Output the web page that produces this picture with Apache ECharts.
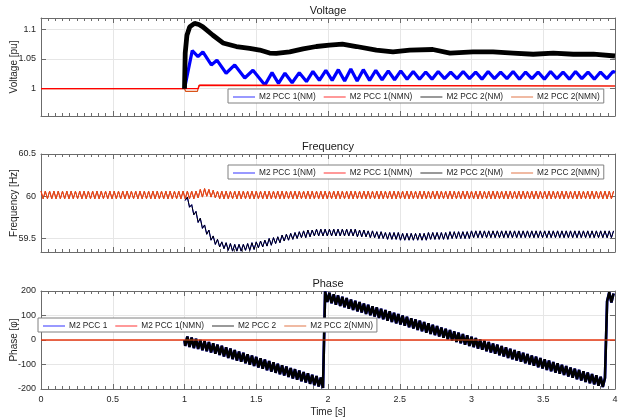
<!DOCTYPE html>
<html>
<head>
<meta charset="utf-8">
<title>M2 PCC voltage, frequency and phase</title>
<script src="https://cdn.jsdelivr.net/npm/echarts@6/dist/echarts.min.js"></script>
<style>
  html, body { margin: 0; padding: 0; background: #fff; }
  #chart { width: 620px; height: 420px; }
</style>
</head>
<body>
<div id="chart"></div>
<script>
// ---- data ----
const timeMin = 0
const timeMax = 4
const timeInterval = 0.5
const sampleStep = 0.015 // spacing of the fast samples (s)
const tailStart = 67     // index of the first fast sample after the event (t = 1.005 s)

const voltageTicks = [1, 1.05, 1.1]
const frequencyTicks = [59.5, 60, 60.5]
const phaseTicks = [-200, -100, 0, 100, 200]

const titles = ['Voltage', 'Frequency', 'Phase']
const yNames = ['Voltage [pu]', 'Frequency [Hz]', 'Phase [φ]']
const voltageNames = ['M2 PCC 1(NM)', 'M2 PCC 1(NMN)', 'M2 PCC 2(NM)', 'M2 PCC 2(NMN)']
const phaseNames = ['M2 PCC 1', 'M2 PCC 1(NMN)', 'M2 PCC 2', 'M2 PCC 2(NMN)']
const lineColors = ['#0000ff', '#ff0000', '#000000', '#d95319']

// voltage [t, pu]
const voltPcc1NM = [
  [1.0, 1.0], [1.054, 1.064], [1.094, 1.054], [1.128, 1.062], [1.187, 1.040],
  [1.226, 1.048], [1.29, 1.026], [1.35, 1.040], [1.42, 1.018], [1.477, 1.031], [1.56, 1.006],
  [1.61, 1.027], [1.655, 1.009], [1.70, 1.026], [1.75, 1.010], [1.80, 1.027], [1.85, 1.012],
  [1.895, 1.029], [1.94, 1.014], [1.985, 1.031], [2.029, 1.014], [2.072, 1.032], [2.116, 1.013],
  [2.159, 1.033], [2.203, 1.013], [2.246, 1.032], [2.290, 1.014], [2.333, 1.031], [2.377, 1.015],
  [2.420, 1.030], [2.464, 1.015], [2.507, 1.030], [2.551, 1.016], [2.594, 1.029], [2.638, 1.016],
  [2.681, 1.028], [2.725, 1.016], [2.768, 1.029], [2.812, 1.017], [2.855, 1.028], [2.899, 1.017],
  [2.942, 1.029], [2.986, 1.017], [3.029, 1.028], [3.073, 1.016], [3.116, 1.029], [3.160, 1.017],
  [3.203, 1.028], [3.247, 1.017], [3.290, 1.029], [3.334, 1.016], [3.377, 1.028], [3.421, 1.017],
  [3.464, 1.028], [3.508, 1.016], [3.551, 1.029], [3.595, 1.017], [3.638, 1.028], [3.682, 1.016],
  [3.725, 1.029], [3.769, 1.017], [3.812, 1.028], [3.856, 1.016], [3.899, 1.028], [3.943, 1.017],
  [3.986, 1.029], [4.0, 1.027]
]
const voltPcc1NMN = [[0, 1.0], [1.095, 1.0], [1.105, 1.006], [2.5, 1.005], [4.0, 1.0045]]
const voltPcc2NM = [
  [1.0, 1.0], [1.005, 1.06], [1.017, 1.09], [1.036, 1.104], [1.07, 1.110],
  [1.10, 1.108], [1.128, 1.104], [1.198, 1.090], [1.268, 1.077], [1.361, 1.071], [1.454, 1.068],
  [1.524, 1.065], [1.593, 1.060], [1.64, 1.0595], [1.733, 1.062], [1.826, 1.067], [1.919, 1.071],
  [2.01, 1.0735], [2.10, 1.075], [2.198, 1.071], [2.337, 1.065], [2.453, 1.062], [2.57, 1.065],
  [2.73, 1.066], [2.85, 1.060], [3.01, 1.062], [3.15, 1.062], [3.29, 1.060], [3.43, 1.058],
  [3.57, 1.060], [3.71, 1.058], [3.85, 1.058], [4.0, 1.055]
]
const voltPcc2NMN = [
  [0, 1.0], [1.0, 1.0], [1.008, 0.9955], [1.09, 0.9955], [1.1, 1.0055], [2.5, 1.005], [4.0, 1.0045]
]

// frequency [Hz], one value per sample step; before the event (t = 0 .. 0.99 s)
const freqBefore = [
  60.06, 59.97, 60.06, 59.97, 60.06, 59.97, 60.06, 59.97, 60.06, 59.97, 60.06, 59.97, 60.06, 59.97,
  60.06, 59.97, 60.06, 59.97, 60.06, 59.97, 60.06, 59.97, 60.06, 59.97, 60.06, 59.97, 60.06, 59.97,
  60.06, 59.97, 60.06, 59.97, 60.06, 59.97, 60.06, 59.97, 60.06, 59.97, 60.06, 59.97, 60.06, 59.97,
  60.06, 59.97, 60.06, 59.97, 60.06, 59.97, 60.06, 59.97, 60.06, 59.97, 60.06, 59.97, 60.06, 59.97,
  60.06, 59.97, 60.06, 59.97, 60.06, 59.97, 60.06, 59.97, 60.06, 59.97, 60.06
]
// from t = 1.005 s on
const freqNM = [
  59.95, 59.99, 59.87, 59.90, 59.78, 59.82, 59.69, 59.74, 59.62, 59.66,
  59.55, 59.60, 59.48, 59.53, 59.43, 59.49, 59.40, 59.46, 59.38, 59.45,
  59.36, 59.44, 59.35, 59.43, 59.35, 59.43, 59.35, 59.43, 59.36, 59.44,
  59.36, 59.45, 59.37, 59.46, 59.39, 59.47, 59.40, 59.48, 59.41, 59.50,
  59.42, 59.51, 59.44, 59.52, 59.45, 59.54, 59.47, 59.55, 59.48, 59.56,
  59.49, 59.57, 59.50, 59.58, 59.51, 59.59, 59.51, 59.60, 59.52, 59.60,
  59.53, 59.61, 59.53, 59.61, 59.53, 59.61, 59.53, 59.61, 59.53, 59.61,
  59.53, 59.61, 59.53, 59.61, 59.53, 59.61, 59.53, 59.61, 59.53, 59.61,
  59.52, 59.60, 59.52, 59.60, 59.52, 59.59, 59.51, 59.59, 59.51, 59.58,
  59.50, 59.58, 59.50, 59.57, 59.49, 59.57, 59.49, 59.57, 59.49, 59.57,
  59.48, 59.56, 59.48, 59.56, 59.48, 59.56, 59.48, 59.56, 59.48, 59.56,
  59.48, 59.56, 59.48, 59.57, 59.49, 59.57, 59.49, 59.57, 59.49, 59.57,
  59.49, 59.57, 59.49, 59.58, 59.50, 59.58, 59.50, 59.58, 59.50, 59.58,
  59.50, 59.58, 59.50, 59.59, 59.51, 59.59, 59.51, 59.59, 59.51, 59.59,
  59.51, 59.59, 59.51, 59.59, 59.51, 59.59, 59.51, 59.59, 59.51, 59.59,
  59.51, 59.59, 59.51, 59.59, 59.51, 59.59, 59.51, 59.59, 59.51, 59.59,
  59.51, 59.59, 59.51, 59.59, 59.51, 59.59, 59.51, 59.59, 59.51, 59.59,
  59.51, 59.59, 59.51, 59.59, 59.51, 59.59, 59.51, 59.59, 59.51, 59.59,
  59.51, 59.59, 59.51, 59.59, 59.51, 59.59, 59.51, 59.59, 59.51, 59.59,
  59.51, 59.59, 59.51, 59.59, 59.51, 59.59, 59.51, 59.59, 59.51, 59.59
]
const freqNMN = [
  59.97, 60.06, 59.97, 60.06, 59.97, 60.06, 59.98, 60.08, 59.99, 60.09,
  60.00, 60.08, 59.99, 60.07, 59.98, 60.06, 59.97, 60.06, 59.97, 60.06,
  59.97, 60.06, 59.97, 60.06, 59.97, 60.06, 59.97, 60.06, 59.97, 60.06,
  59.97, 60.06, 59.97, 60.06, 59.97, 60.06, 59.97, 60.06, 59.97, 60.06,
  59.97, 60.06, 59.97, 60.06, 59.97, 60.06, 59.97, 60.06, 59.97, 60.06,
  59.97, 60.06, 59.97, 60.06, 59.97, 60.06, 59.97, 60.06, 59.97, 60.06,
  59.97, 60.06, 59.97, 60.06, 59.97, 60.06, 59.97, 60.06, 59.97, 60.06,
  59.97, 60.06, 59.97, 60.06, 59.97, 60.06, 59.97, 60.06, 59.97, 60.06,
  59.97, 60.06, 59.97, 60.06, 59.97, 60.06, 59.97, 60.06, 59.97, 60.06,
  59.97, 60.06, 59.97, 60.06, 59.97, 60.06, 59.97, 60.06, 59.97, 60.06,
  59.97, 60.06, 59.97, 60.06, 59.97, 60.06, 59.97, 60.06, 59.97, 60.06,
  59.97, 60.06, 59.97, 60.06, 59.97, 60.06, 59.97, 60.06, 59.97, 60.06,
  59.97, 60.06, 59.97, 60.06, 59.97, 60.06, 59.97, 60.06, 59.97, 60.06,
  59.97, 60.06, 59.97, 60.06, 59.97, 60.06, 59.97, 60.06, 59.97, 60.06,
  59.97, 60.06, 59.97, 60.06, 59.97, 60.06, 59.97, 60.06, 59.97, 60.06,
  59.97, 60.06, 59.97, 60.06, 59.97, 60.06, 59.97, 60.06, 59.97, 60.06,
  59.97, 60.06, 59.97, 60.06, 59.97, 60.06, 59.97, 60.06, 59.97, 60.06,
  59.97, 60.06, 59.97, 60.06, 59.97, 60.06, 59.97, 60.06, 59.97, 60.06,
  59.97, 60.06, 59.97, 60.06, 59.97, 60.06, 59.97, 60.06, 59.97, 60.06,
  59.97, 60.06, 59.97, 60.06, 59.97, 60.06, 59.97, 60.06, 59.97, 60.06
]

// phase [deg]: start of the NM trace at the event, then fast samples from t = 1.005 s on
const phaseStart = [[1.0, 0]]
const phaseNM = [
  -24, 14, -28, 10, -33, 5, -37, 0, -42, -4,
  -46, -8, -51, -13, -56, -19, -61, -24, -67, -30,
  -73, -35, -78, -41, -84, -47, -89, -52, -95, -58,
  -101, -63, -106, -69, -112, -75, -117, -80, -123, -86,
  -129, -91, -134, -97, -140, -103, -145, -108, -151, -114,
  -157, -119, -162, -125, -168, -131, -173, -136, -179, -142,
  -185, -147, -190, -153, -196, 198, 155, 193, 150, 187,
  144, 182, 139, 176, 134, 171, 128, 165, 123, 160,
  117, 155, 112, 149, 106, 144, 101, 138, 96, 133,
  90, 127, 85, 122, 79, 117, 74, 111, 68, 106,
  63, 100, 58, 95, 52, 89, 47, 84, 41, 79,
  36, 73, 30, 68, 25, 62, 20, 57, 14, 51,
  9, 46, 3, 41, -2, 35, -8, 30, -13, 24,
  -19, 19, -24, 13, -29, 8, -35, 2, -40, -3,
  -46, -8, -51, -14, -56, -19, -62, -25, -67, -30,
  -73, -36, -78, -41, -84, -46, -89, -52, -95, -57,
  -100, -63, -105, -68, -111, -74, -116, -79, -122, -84,
  -127, -90, -133, -95, -138, -101, -143, -106, -149, -112,
  -154, -117, -160, -122, -165, -128, -171, -133, -176, -139,
  -181, -144, -187, -150, -192, -155, 158, 195, 153, 190
]
const phaseNMN = [[0, 0], [4.0, 0]]

// ---- chart ----
const fontFamily = 'Liberation Sans, Arial, Helvetica, sans-serif'
const frameColor = '#6b6b6b'
const gridColor = '#e6e6e6'
const textColor = '#262626'
const gridTops = [18, 154, 291]
const legendPos = [[228, 89], [228, 165], [38, 318]]

const fast = (values, first) =>
  values.map((v, i) => [Math.round((first + i) * sampleStep * 1000) / 1000, v])

function timeAxes(gridIndex, withLabels) {
  const base = {
    type: 'value',
    gridIndex,
    min: timeMin,
    max: timeMax,
    interval: timeInterval,
    axisLine: { show: true, onZero: false, lineStyle: { color: frameColor } },
    axisTick: { show: true, inside: true, length: 5, lineStyle: { color: frameColor } },
    minorTick: { show: true, splitNumber: 10, length: 3, lineStyle: { color: frameColor } }
  }
  const bottom = {
    ...base,
    position: 'bottom',
    axisLabel: { show: withLabels, fontSize: 9, color: textColor, margin: 6 },
    splitLine: { show: true, lineStyle: { color: gridColor } }
  }
  if (withLabels) {
    Object.assign(bottom, {
      name: 'Time [s]',
      nameLocation: 'middle',
      nameGap: 18,
      nameMoveOverlap: false,
      nameTextStyle: { fontSize: 10, color: textColor }
    })
  }
  return [bottom, { ...base, position: 'top', axisLabel: { show: false }, splitLine: { show: false } }]
}

function valueAxes(gridIndex, min, max, ticks, name) {
  const base = {
    type: 'value',
    gridIndex,
    min,
    max,
    axisLine: { show: true, onZero: false, lineStyle: { color: frameColor } },
    axisTick: { show: true, inside: true, length: 5, customValues: ticks, lineStyle: { color: frameColor } }
  }
  return [
    {
      ...base,
      position: 'left',
      name,
      nameLocation: 'middle',
      nameGap: 21.5,
      nameMoveOverlap: false,
      nameTextStyle: { fontSize: 10, color: textColor },
      axisLabel: { customValues: ticks, fontSize: 9, color: textColor, margin: 5 },
      splitLine: { show: true, lineStyle: { color: gridColor } }
    },
    { ...base, position: 'right', axisLabel: { show: false }, splitLine: { show: false } }
  ]
}

function line(name, panel, colorIndex, data, width) {
  return {
    type: 'line',
    name,
    xAxisIndex: panel * 2,
    yAxisIndex: panel * 2,
    data,
    symbol: 'none',
    silent: true,
    itemStyle: { color: lineColors[colorIndex] },
    lineStyle: { color: lineColors[colorIndex], width }
  }
}

// legend swatches are drawn as rich-text bars in front of each name
const swatchRich = { gap: { width: 4 } }
lineColors.forEach((color, i) => {
  swatchRich['c' + i] = { width: 22, height: 1, backgroundColor: color, opacity: 0.8 }
})
function legendFor(names, pos) {
  return {
    data: names,
    left: pos[0],
    top: pos[1],
    orient: 'horizontal',
    padding: [3, 4, 2, 0],
    itemGap: 3,
    itemWidth: 0,
    itemHeight: 10,
    icon: 'none',
    borderColor: '#808080',
    borderWidth: 1,
    backgroundColor: '#fff',
    selectedMode: false,
    formatter: (name) => `{c${names.indexOf(name)}|}{gap|}${name}`,
    textStyle: { fontSize: 8.3, color: textColor, fontFamily, rich: swatchRich }
  }
}

const freqNMData = fast(freqNM, tailStart)
const freqNMNData = fast(freqBefore, 0).concat(fast(freqNMN, tailStart))
const phaseNMData = phaseStart.concat(fast(phaseNM, tailStart))

const chart = echarts.init(document.getElementById('chart'))
chart.setOption({
  animation: false,
  backgroundColor: '#fff',
  textStyle: { fontFamily },
  title: titles.map((text, i) => ({
    text,
    left: 328,
    top: gridTops[i] - 13,
    textAlign: 'center',
    padding: 0,
    textStyle: { fontSize: 11, fontWeight: 'normal', color: '#1a1a1a', fontFamily }
  })),
  legend: [
    legendFor(voltageNames, legendPos[0]),
    legendFor(voltageNames, legendPos[1]),
    legendFor(phaseNames, legendPos[2])
  ],
  grid: gridTops.map((top) => ({
    left: 41, right: 5, top, height: 98, containLabel: false, outerBoundsMode: 'none'
  })),
  xAxis: [...timeAxes(0, false), ...timeAxes(1, false), ...timeAxes(2, true)],
  yAxis: [
    ...valueAxes(0, 0.954, 1.119, voltageTicks, yNames[0]),
    ...valueAxes(1, 59.34, 60.5, frequencyTicks, yNames[1]),
    ...valueAxes(2, -200, 200, phaseTicks, yNames[2])
  ],
  series: [
    // voltage (orange drawn before red so red stays on top where they meet)
    line(voltageNames[0], 0, 0, voltPcc1NM, 3.2),
    line(voltageNames[3], 0, 3, voltPcc2NMN, 1.2),
    line(voltageNames[1], 0, 1, voltPcc1NMN, 1.2),
    line(voltageNames[2], 0, 2, voltPcc2NM, 4.8),
    // frequency
    line(voltageNames[0], 1, 0, freqNMData, 1),
    line(voltageNames[1], 1, 1, freqNMNData, 1),
    line(voltageNames[2], 1, 2, freqNMData, 1),
    line(voltageNames[3], 1, 3, freqNMNData, 1),
    // phase
    line(phaseNames[0], 2, 0, phaseNMData, 2.6),
    line(phaseNames[1], 2, 1, phaseNMN, 1),
    line(phaseNames[2], 2, 2, phaseNMData, 2.6),
    line(phaseNames[3], 2, 3, phaseNMN, 1)
  ]
})
</script>
</body>
</html>
